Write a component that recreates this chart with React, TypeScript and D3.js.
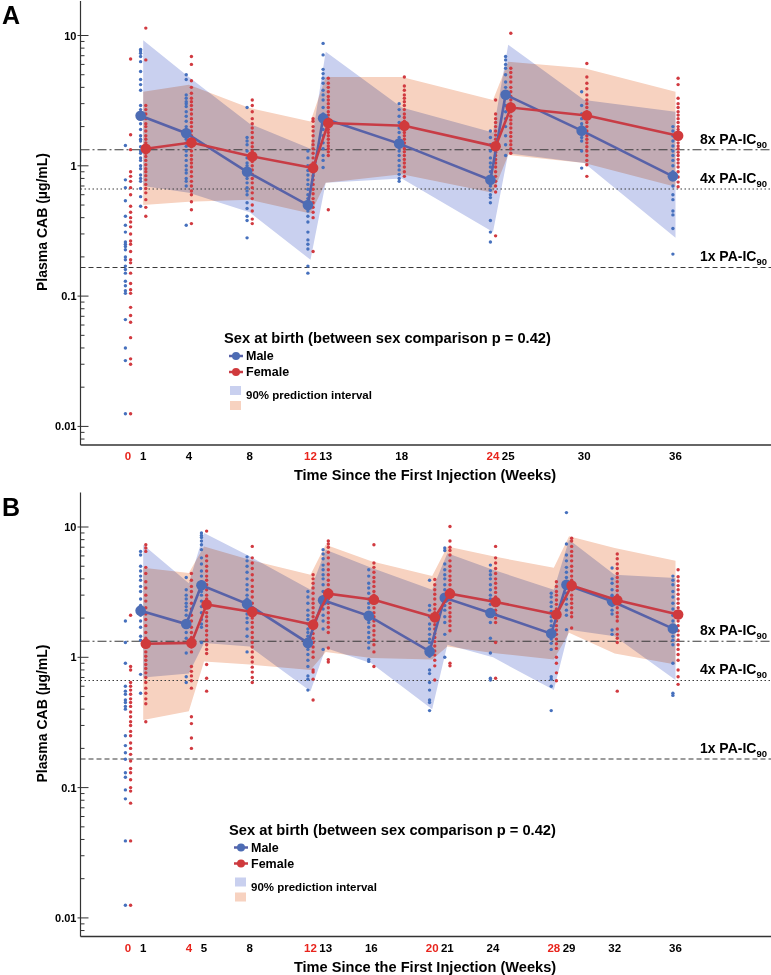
import React from "react";
import * as d3 from "d3";

// ---------------- DATA ----------------
const REF_PA_IC90 = 0.166;
const REF_LINES = [
  { mult: 8, label: "8x PA-IC", dash: "9,3,2,3" },
  { mult: 4, label: "4x PA-IC", dash: "1.5,2.5" },
  { mult: 1, label: "1x PA-IC", dash: "5,3" },
];
const Y_MAJOR_LABELS = ["0.01", "0.1", "1", "10"];

// Panel A
const WEEKS_A = [0, 1, 4, 8, 12, 13, 18, 24, 25, 30, 36];
const TICKS_A = [0, 1, 4, 8, 12, 13, 18, 24, 25, 30, 36];
const RED_TICKS_A = [0, 12, 24];
const MALE_DOTS_A = [
  [1.43, 0.78, 0.68, 0.54, 0.41, 0.35, 0.31, 0.26, 0.25, 0.24, 0.227, 0.2, 0.19, 0.17, 0.16, 0.15, 0.13, 0.12, 0.11, 0.105, 0.066, 0.04, 0.032, 0.0125],
  [7.8, 7.6, 7.3, 6.9, 6.3, 5.3, 4.6, 4.2, 3.8, 2.9, 2.7, 2.5, 2.3, 2.1, 1.9, 1.7, 1.6, 1.55, 1.4, 1.3, 1.25, 1.15, 1.1, 1.0, 0.95, 0.85, 0.8, 0.76, 0.67, 0.58, 0.49],
  [5.0, 4.6, 3.5, 3.3, 3.1, 3.0, 2.85, 2.6, 2.4, 2.2, 2.0, 1.9, 1.75, 1.6, 1.5, 1.41, 1.3, 1.2, 1.1, 1.0, 0.93, 0.88, 0.8, 0.76, 0.7, 0.35],
  [2.8, 1.65, 1.55, 1.45, 1.3, 1.15, 1.05, 1.0, 0.95, 0.9, 0.85, 0.8, 0.74, 0.68, 0.64, 0.6, 0.52, 0.47, 0.41, 0.38, 0.28],
  [1.3, 1.15, 1.0, 0.92, 0.85, 0.78, 0.72, 0.66, 0.6, 0.56, 0.5, 0.45, 0.41, 0.37, 0.31, 0.27, 0.25, 0.23, 0.17, 0.15],
  [8.7, 7.1, 5.5, 5.1, 4.7, 4.3, 3.8, 3.5, 3.2, 2.8, 2.5, 2.3, 2.1, 1.9, 1.7, 1.5, 1.35, 1.2, 1.1, 0.97],
  [3.0, 2.7, 2.4, 2.15, 1.95, 1.8, 1.65, 1.55, 1.45, 1.38, 1.3, 1.2, 1.1, 1.0, 0.93, 0.86, 0.8, 0.76],
  [1.85, 1.65, 1.45, 1.3, 1.15, 1.05, 0.98, 0.9, 0.82, 0.75, 0.7, 0.65, 0.6, 0.57, 0.52, 0.38, 0.31, 0.26],
  [6.9, 6.5, 6.0, 5.6, 5.0, 4.4, 4.0, 3.6, 3.3, 2.9, 2.6, 2.3, 2.0, 1.7, 1.45, 1.2],
  [3.7, 2.9, 2.5, 2.3, 2.1, 2.0, 1.85, 1.75, 1.65, 1.55, 1.3, 0.96],
  [2.0, 1.85, 1.7, 1.55, 1.42, 1.3, 1.2, 1.1, 1.0, 0.9, 0.8, 0.7, 0.6, 0.55, 0.45, 0.42, 0.33, 0.21],
];
const FEMALE_DOTS_A = [
  [6.6, 1.73, 1.33, 0.9, 0.83, 0.76, 0.68, 0.6, 0.49, 0.44, 0.4, 0.37, 0.34, 0.3, 0.265, 0.25, 0.22, 0.19, 0.18, 0.15, 0.125, 0.112, 0.105, 0.082, 0.071, 0.063, 0.048, 0.033, 0.03, 0.0125],
  [11.4, 6.5, 2.9, 2.7, 2.5, 2.3, 2.1, 2.0, 1.85, 1.7, 1.6, 1.5, 1.4, 1.32, 1.25, 1.18, 1.1, 1.02, 0.95, 0.9, 0.84, 0.78, 0.72, 0.67, 0.62, 0.55, 0.48, 0.41],
  [6.9, 6.0, 4.5, 4.0, 3.6, 3.3, 3.1, 2.9, 2.7, 2.5, 2.3, 2.15, 2.0, 1.85, 1.7, 1.6, 1.5, 1.4, 1.3, 1.2, 1.12, 1.05, 0.98, 0.9, 0.83, 0.76, 0.7, 0.64, 0.6, 0.53, 0.46, 0.36],
  [3.2, 2.9, 2.6, 2.3, 2.1, 1.95, 1.8, 1.65, 1.5, 1.4, 1.3, 1.22, 1.15, 1.08, 1.0, 0.93, 0.86, 0.8, 0.74, 0.68, 0.62, 0.56, 0.5, 0.45, 0.39, 0.36],
  [2.3, 2.2, 2.0, 1.85, 1.7, 1.55, 1.45, 1.35, 1.25, 1.15, 1.05, 0.98, 0.9, 0.84, 0.78, 0.72, 0.66, 0.61, 0.56, 0.52, 0.48, 0.44, 0.4, 0.22],
  [4.7, 4.3, 4.0, 3.7, 3.4, 3.2, 3.0, 2.8, 2.6, 2.45, 2.3, 2.15, 2.0, 1.9, 1.8, 1.7, 1.6, 1.5, 1.42, 1.35, 1.28, 1.2, 0.46],
  [4.8, 4.1, 3.8, 3.5, 3.3, 3.1, 2.9, 2.7, 2.5, 2.35, 2.2, 2.05, 1.9, 1.8, 1.7, 1.6, 1.5, 1.42, 1.35, 1.28, 1.2, 1.12, 1.05, 0.98, 0.9, 0.83],
  [3.2, 2.5, 2.3, 2.15, 2.0, 1.85, 1.72, 1.6, 1.5, 1.42, 1.35, 1.27, 1.2, 1.12, 1.05, 0.98, 0.9, 0.83, 0.76, 0.7, 0.63, 0.29],
  [10.4, 5.6, 5.2, 4.8, 4.4, 4.0, 3.7, 3.4, 3.2, 3.0, 2.8, 2.6, 2.4, 2.25, 2.1, 1.95, 1.8, 1.68, 1.55, 1.45, 1.35, 1.25],
  [6.1, 4.8, 4.3, 3.9, 3.5, 3.2, 3.0, 2.8, 2.6, 2.45, 2.3, 2.15, 2.0, 1.85, 1.7, 1.6, 1.5, 1.4, 1.3, 1.2, 1.1, 1.02, 0.83],
  [4.7, 4.2, 3.3, 3.0, 2.8, 2.6, 2.45, 2.3, 2.15, 2.0, 1.9, 1.8, 1.7, 1.6, 1.5, 1.42, 1.35, 1.27, 1.2, 1.12, 1.05, 0.98, 0.9, 0.82, 0.75, 0.69],
];
const MEAN_WEEKS_A = [1, 4, 8, 12, 13, 18, 24, 25, 30, 36];
const MALE_MEAN_A = [2.42, 1.78, 0.9, 0.5, 2.32, 1.48, 0.78, 3.51, 1.86, 0.83];
const FEMALE_MEAN_A = [1.35, 1.51, 1.18, 0.96, 2.13, 2.03, 1.41, 2.8, 2.43, 1.7];
const MALE_LO_A = [0.7, 0.62, 0.44, 0.19, 0.74, 0.8, 0.31, 1.25, 1.05, 0.28];
const MALE_HI_A = [9.2, 4.8, 2.1, 1.35, 7.5, 2.8, 1.8, 8.5, 3.2, 2.6];
const FEMALE_LO_A = [0.5, 0.53, 0.55, 0.43, 0.74, 0.86, 0.62, 1.21, 1.05, 0.69];
const FEMALE_HI_A = [3.7, 4.18, 2.78, 2.19, 4.8, 4.8, 3.2, 6.3, 5.6, 3.7];

// Panel B
const WEEKS_B = [0, 1, 4, 5, 8, 12, 13, 16, 20, 21, 24, 28, 29, 32, 36];
const TICKS_B = [0, 1, 4, 5, 8, 12, 13, 16, 20, 21, 24, 28, 29, 32, 36];
const RED_TICKS_B = [0, 4, 12, 20, 28];
const MALE_DOTS_B = [
  [1.9, 1.3, 0.9, 0.6, 0.55, 0.52, 0.47, 0.45, 0.42, 0.4, 0.25, 0.21, 0.185, 0.165, 0.13, 0.12, 0.096, 0.082, 0.039, 0.0125],
  [6.5, 6.1, 5.0, 4.6, 4.2, 3.9, 3.5, 3.2, 2.8, 2.5, 2.3, 2.1, 1.9, 1.7, 1.45, 1.35, 0.74, 0.53],
  [4.1, 3.3, 3.0, 2.8, 2.6, 2.45, 2.3, 2.1, 1.8, 1.55, 1.4, 1.08, 0.71, 0.64],
  [9.0, 8.6, 8.3, 7.8, 7.3, 6.7, 5.8, 5.2, 4.6, 4.2, 3.8, 3.2, 3.0, 2.7, 2.45, 2.2, 1.95, 1.8, 1.7, 1.3],
  [5.9, 5.5, 5.0, 4.5, 4.0, 3.6, 3.3, 3.0, 2.8, 2.6, 2.35, 2.15, 2.0, 1.85, 1.65, 1.45, 1.1],
  [3.2, 2.9, 2.6, 2.3, 2.1, 1.95, 1.8, 1.65, 1.55, 1.45, 1.35, 1.25, 1.15, 1.05, 0.95, 0.85, 0.72, 0.68, 0.56],
  [6.7, 6.2, 5.7, 5.1, 4.7, 4.3, 4.0, 3.6, 3.2, 2.9, 2.6, 2.35, 2.1, 1.9, 1.65, 1.15],
  [4.7, 4.2, 3.7, 3.4, 3.1, 2.8, 2.6, 2.4, 2.2, 2.05, 1.95, 1.85, 1.7, 1.55, 1.42, 1.3, 1.18, 0.96, 0.93],
  [3.9, 2.5, 2.3, 2.05, 1.8, 1.65, 1.5, 1.38, 1.3, 1.2, 1.1, 1.02, 0.8, 0.75, 0.64, 0.56, 0.47, 0.45, 0.39],
  [6.9, 6.6, 5.2, 4.7, 4.3, 4.0, 3.6, 3.3, 3.0, 2.8, 2.5, 2.3, 2.05, 1.85, 1.5, 1.0],
  [5.1, 4.6, 4.3, 4.0, 3.6, 3.3, 3.0, 2.8, 2.55, 2.3, 2.1, 1.85, 1.4, 1.08, 0.69, 0.67],
  [3.1, 2.9, 2.65, 2.45, 2.25, 2.05, 1.9, 1.75, 1.6, 1.48, 1.38, 1.28, 1.15, 0.71, 0.68, 0.6, 0.39],
  [12.9, 7.4, 6.1, 5.5, 4.9, 4.5, 4.1, 3.8, 3.45, 3.1, 2.8, 2.55, 2.3, 2.1, 1.63],
  [4.85, 4.0, 3.7, 3.3, 3.0, 2.7, 2.5, 2.3, 2.15, 1.62, 1.5],
  [4.2, 3.9, 3.6, 3.2, 2.9, 2.6, 2.35, 2.1, 1.9, 1.75, 1.6, 1.45, 1.35, 1.25, 0.9, 0.53, 0.51],
];
const FEMALE_DOTS_B = [
  [2.1, 0.85, 0.8, 0.64, 0.6, 0.56, 0.52, 0.48, 0.45, 0.42, 0.38, 0.35, 0.32, 0.3, 0.27, 0.25, 0.22, 0.2, 0.18, 0.16, 0.14, 0.13, 0.115, 0.1, 0.094, 0.076, 0.039, 0.0125],
  [7.3, 6.9, 6.5, 4.9, 4.4, 3.8, 3.4, 3.0, 2.7, 2.4, 2.15, 1.95, 1.75, 1.55, 1.4, 1.3, 1.2, 1.1, 1.02, 0.95, 0.88, 0.82, 0.76, 0.7, 0.64, 0.58, 0.53, 0.48, 0.44, 0.32],
  [4.4, 3.9, 3.5, 3.2, 2.9, 2.6, 2.35, 2.1, 1.9, 1.7, 1.55, 1.42, 1.3, 1.2, 1.1, 0.85, 0.78, 0.72, 0.66, 0.58, 0.35, 0.31, 0.24, 0.2],
  [9.3, 6.0, 5.5, 5.0, 4.6, 4.2, 3.9, 3.6, 3.3, 3.0, 2.8, 2.6, 2.4, 2.2, 2.05, 1.9, 1.75, 1.6, 1.48, 1.36, 1.25, 1.15, 1.07, 0.88, 0.69, 0.55],
  [7.1, 5.8, 5.3, 4.8, 4.3, 3.9, 3.5, 3.2, 2.9, 2.6, 2.4, 2.2, 2.0, 1.85, 1.7, 1.55, 1.42, 1.3, 1.2, 1.1, 1.0, 0.92, 0.84, 0.77, 0.7, 0.64],
  [4.3, 4.0, 3.7, 3.4, 3.1, 2.8, 2.6, 2.4, 2.2, 2.05, 1.9, 1.78, 1.65, 1.52, 1.4, 1.3, 1.2, 1.1, 1.0, 0.8, 0.77, 0.68, 0.47],
  [7.8, 7.4, 7.0, 6.4, 5.8, 5.2, 4.7, 4.3, 3.9, 3.6, 3.3, 3.0, 2.8, 2.6, 2.4, 2.2, 2.0, 1.85, 1.7, 1.55, 1.18, 0.96, 0.92],
  [7.3, 5.3, 4.9, 4.5, 4.1, 3.8, 3.5, 3.2, 3.0, 2.8, 2.6, 2.4, 2.2, 2.05, 1.9, 1.75, 1.6, 1.48, 1.36, 1.25, 1.1, 0.85],
  [3.95, 3.6, 3.3, 3.05, 2.8, 2.55, 2.35, 2.2, 2.05, 1.9, 1.78, 1.65, 1.52, 1.42, 1.32, 1.22, 1.12, 1.04, 0.95, 0.86, 0.67],
  [10.1, 7.8, 7.0, 6.6, 6.1, 5.5, 5.0, 4.6, 4.2, 3.9, 3.6, 3.3, 3.0, 2.8, 2.6, 2.4, 2.2, 2.05, 1.9, 1.75, 1.6, 0.9, 0.86],
  [7.1, 5.8, 5.3, 4.8, 4.4, 4.0, 3.7, 3.4, 3.15, 2.9, 2.7, 2.5, 2.3, 2.15, 2.0, 1.85, 1.3, 0.69],
  [3.8, 3.5, 3.2, 3.0, 2.75, 2.55, 2.35, 2.2, 2.05, 1.9, 1.75, 1.62, 1.5, 1.38, 1.27, 1.17, 1.0, 0.9, 0.76, 0.66],
  [8.2, 7.8, 7.1, 6.5, 6.0, 5.5, 5.0, 4.6, 4.2, 3.9, 3.6, 3.3, 3.0, 2.8, 2.6, 2.4, 2.2, 2.05, 1.68],
  [6.2, 5.7, 5.2, 4.8, 4.4, 4.1, 3.8, 3.5, 3.25, 3.0, 2.8, 2.6, 2.4, 2.2, 2.05, 1.9, 1.65, 1.5, 1.4, 1.3, 0.55],
  [4.7, 4.15, 3.85, 3.55, 3.3, 3.05, 2.8, 2.6, 2.4, 2.2, 2.05, 1.9, 1.75, 1.6, 1.48, 1.36, 1.25, 1.15, 1.05, 0.95, 0.8, 0.71, 0.62],
];
const MEAN_WEEKS_B = [1, 4, 5, 8, 12, 13, 16, 20, 21, 24, 28, 29, 32, 36];
const MALE_MEAN_B = [2.28, 1.8, 3.57, 2.57, 1.29, 2.74, 2.08, 1.11, 2.86, 2.19, 1.52, 3.6, 2.69, 1.66];
const FEMALE_MEAN_B = [1.27, 1.29, 2.54, 2.23, 1.78, 3.08, 2.77, 2.03, 3.08, 2.66, 2.13, 3.55, 2.74, 2.13];
const MALE_LO_B = [0.7, 0.75, 1.29, 1.21, 0.55, 1.18, 0.9, 0.4, 1.25, 1.0, 0.56, 1.63, 1.45, 0.67];
const MALE_HI_B = [7.3, 3.7, 9.0, 5.96, 3.3, 6.7, 4.86, 3.3, 6.3, 4.7, 3.3, 8.0, 4.3, 4.07];
const FEMALE_LO_B = [0.33, 0.385, 0.93, 0.88, 0.8, 1.1, 0.99, 0.96, 1.21, 1.08, 0.96, 1.54, 1.07, 0.88];
const FEMALE_HI_B = [4.86, 4.44, 7.1, 5.6, 4.3, 7.3, 5.45, 4.2, 7.1, 5.96, 4.86, 8.5, 6.9, 5.5];

// ---------------- STYLE ----------------
const FONT = "'Liberation Sans', Arial, Helvetica, sans-serif";
const C = {
  maleDot: "#4670bd",
  femaleDot: "#d13a40",
  maleLine: "#5862a8",
  femaleLine: "#c83c45",
  maleMark: "#4d6cb4",
  femaleMark: "#d03a3c",
  maleBand: "#c9d0ef",
  femaleBand: "#f7d2c0",
  axis: "#333",
};

type PanelProps = {
  oy: number;
  lx: number;
  letter: string;
  weeks: number[];
  ticks: number[];
  redTicks: number[];
  maleDots: number[][];
  femaleDots: number[][];
  meanWeeks: number[];
  maleMean: number[];
  femaleMean: number[];
  maleLo: number[];
  maleHi: number[];
  femaleLo: number[];
  femaleHi: number[];
};

function Panel(p: PanelProps) {
  const { oy, lx } = p;
  const axisX = 80.5;
  const plotTop = oy + 1;
  const plotBottom = oy + 445;
  const right = 771;
  const x = d3.scaleLinear().domain([0, 36]).range([128, 675.5]);
  const y = d3.scaleLog().domain([0.0072, 18.4]).range([plotBottom, plotTop]);
  const dx = 2.6;

  const band = (lo: number[], hi: number[]) =>
    d3
      .area<number>()
      .x((w) => x(w))
      .y0((_, i) => y(lo[i]))
      .y1((_, i) => y(hi[i]))(p.meanWeeks) || "";

  const meanLine = (vals: number[], off: number) =>
    d3
      .line<number>()
      .x((_, i) => x(p.meanWeeks[i]) + off)
      .y((v) => y(v))(vals) || "";

  const yTicks = y.ticks();
  const isMajor = (t: number) => Math.abs(Math.log10(t) - Math.round(Math.log10(t))) < 1e-6;

  const legY = oy + 343;
  return (
    <g>
      <text x={2} y={oy + 24} fontSize={25} fontWeight="bold" fontFamily={FONT}>
        {p.letter}
      </text>

      {/* bands */}
      <path d={band(p.maleLo, p.maleHi)} fill={C.maleBand} />
      <path d={band(p.femaleLo, p.femaleHi)} fill={C.femaleBand} style={{ mixBlendMode: "multiply" }} />

      {/* reference lines */}
      {REF_LINES.map((r) => (
        <g key={r.mult}>
          <line
            x1={axisX}
            x2={right}
            y1={y(r.mult * REF_PA_IC90)}
            y2={y(r.mult * REF_PA_IC90)}
            stroke="#3a3a3a"
            strokeWidth={1.1}
            strokeDasharray={r.dash}
          />
          <text
            x={767}
            y={y(r.mult * REF_PA_IC90) - 6}
            textAnchor="end"
            fontFamily={FONT}
            fontWeight="bold"
            fontSize={14}
          >
            {r.label}
            <tspan fontSize={9.5} dy={4}>
              90
            </tspan>
          </text>
        </g>
      ))}

      {/* dots */}
      {p.weeks.map((w, i) => (
        <g key={"m" + w}>
          {p.maleDots[i].map((v, j) => (
            <circle key={j} cx={x(w) - dx} cy={y(v)} r={1.7} fill={C.maleDot} />
          ))}
        </g>
      ))}
      {p.weeks.map((w, i) => (
        <g key={"f" + w}>
          {p.femaleDots[i].map((v, j) => (
            <circle key={j} cx={x(w) + dx} cy={y(v)} r={1.7} fill={C.femaleDot} />
          ))}
        </g>
      ))}

      {/* mean lines */}
      <path d={meanLine(p.maleMean, -dx)} fill="none" stroke={C.maleLine} strokeWidth={2.6} />
      {p.maleMean.map((v, i) => (
        <circle key={"mm" + i} cx={x(p.meanWeeks[i]) - dx} cy={y(v)} r={5.3} fill={C.maleMark} />
      ))}
      <path d={meanLine(p.femaleMean, dx)} fill="none" stroke={C.femaleLine} strokeWidth={2.6} />
      {p.femaleMean.map((v, i) => (
        <circle key={"fm" + i} cx={x(p.meanWeeks[i]) + dx} cy={y(v)} r={5.3} fill={C.femaleMark} />
      ))}

      {/* axes */}
      <line x1={axisX} x2={axisX} y1={plotTop} y2={plotBottom} stroke={C.axis} strokeWidth={1.2} />
      <line x1={axisX} x2={right} y1={plotBottom} y2={plotBottom} stroke={C.axis} strokeWidth={1.3} />
      {yTicks.map((t, i) => {
        const major = isMajor(t);
        const e = Math.round(Math.log10(t));
        return (
          <g key={"yt" + i}>
            <line
              x1={major ? axisX - 3 : axisX}
              x2={major ? axisX + 8 : axisX + 4}
              y1={y(t)}
              y2={y(t)}
              stroke={C.axis}
              strokeWidth={1}
            />
            {major && (
              <text
                x={axisX - 4}
                y={y(t) + 4}
                textAnchor="end"
                fontFamily={FONT}
                fontWeight="bold"
                fontSize={11}
              >
                {Y_MAJOR_LABELS[e + 2]}
              </text>
            )}
          </g>
        );
      })}
      {p.ticks.map((t) => (
        <text
          key={"xt" + t}
          x={x(t)}
          y={oy + 460}
          textAnchor="middle"
          fontFamily={FONT}
          fontWeight="bold"
          fontSize={11.5}
          fill={p.redTicks.includes(t) ? "#e8241c" : "#000"}
        >
          {t}
        </text>
      ))}
      <text
        x={425}
        y={oy + 480}
        textAnchor="middle"
        fontFamily={FONT}
        fontWeight="bold"
        fontSize={14.6}
      >
        Time Since the First Injection (Weeks)
      </text>
      <text
        transform={`translate(47,${oy + 222}) rotate(-90)`}
        textAnchor="middle"
        fontFamily={FONT}
        fontWeight="bold"
        fontSize={14}
      >
        Plasma CAB (µg/mL)
      </text>

      {/* legend */}
      <g fontFamily={FONT} fontWeight="bold">
        <text x={lx} y={legY} fontSize={14.7}>
          Sex at birth (between sex comparison p = 0.42)
        </text>
        <line x1={lx + 5} x2={lx + 19} y1={legY + 13} y2={legY + 13} stroke={C.maleLine} strokeWidth={2.5} />
        <circle cx={lx + 12} cy={legY + 13} r={4} fill={C.maleMark} />
        <text x={lx + 22} y={legY + 17} fontSize={12.5}>
          Male
        </text>
        <line x1={lx + 5} x2={lx + 19} y1={legY + 29} y2={legY + 29} stroke={C.femaleLine} strokeWidth={2.5} />
        <circle cx={lx + 12} cy={legY + 29} r={4} fill={C.femaleMark} />
        <text x={lx + 22} y={legY + 33} fontSize={12.5}>
          Female
        </text>
        <rect x={lx + 6} y={legY + 43} width={11} height={9} fill={C.maleBand} />
        <text x={lx + 22} y={legY + 56} fontSize={11.5}>
          90% prediction interval
        </text>
        <rect x={lx + 6} y={legY + 58} width={11} height={9} fill={C.femaleBand} />
      </g>
    </g>
  );
}

export default function App() {
  return (
    <svg
      width={771}
      height={975}
      viewBox="0 0 771 975"
      style={{ position: "absolute", left: 0, top: 0, background: "#fff" }}
    >
      <rect width={771} height={975} fill="#fff" />
      <Panel
        oy={0}
        lx={224}
        letter="A"
        weeks={WEEKS_A}
        ticks={TICKS_A}
        redTicks={RED_TICKS_A}
        maleDots={MALE_DOTS_A}
        femaleDots={FEMALE_DOTS_A}
        meanWeeks={MEAN_WEEKS_A}
        maleMean={MALE_MEAN_A}
        femaleMean={FEMALE_MEAN_A}
        maleLo={MALE_LO_A}
        maleHi={MALE_HI_A}
        femaleLo={FEMALE_LO_A}
        femaleHi={FEMALE_HI_A}
      />
      <Panel
        oy={491.5}
        lx={229}
        letter="B"
        weeks={WEEKS_B}
        ticks={TICKS_B}
        redTicks={RED_TICKS_B}
        maleDots={MALE_DOTS_B}
        femaleDots={FEMALE_DOTS_B}
        meanWeeks={MEAN_WEEKS_B}
        maleMean={MALE_MEAN_B}
        femaleMean={FEMALE_MEAN_B}
        maleLo={MALE_LO_B}
        maleHi={MALE_HI_B}
        femaleLo={FEMALE_LO_B}
        femaleHi={FEMALE_HI_B}
      />
    </svg>
  );
}
